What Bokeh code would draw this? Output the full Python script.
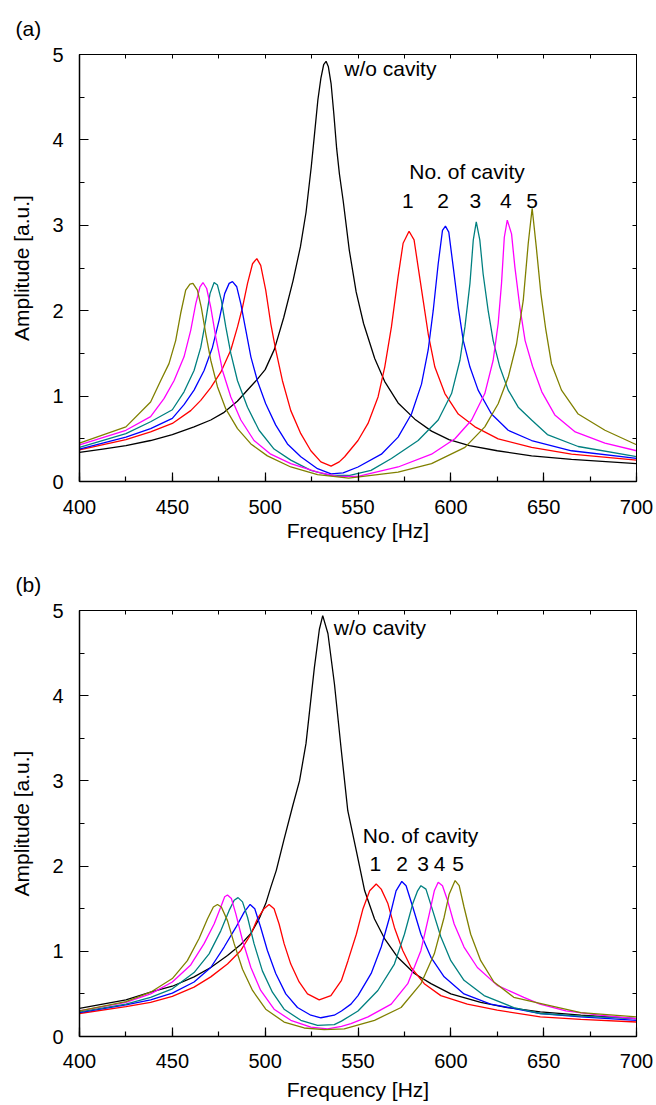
from bokeh.plotting import figure
from bokeh.layouts import column
from bokeh.models import Label, LinearAxis, Range1d, SingleIntervalTicker
from bokeh.embed import file_html
from bokeh.resources import INLINE

# ---------------- Panel (a) data ----------------
a_black_f = [400, 412.5, 425, 438.3, 450, 461.7, 470.7, 477.9, 485, 490, 495.5, 500, 505, 510, 515, 519, 522, 524.8, 526.5, 528.4, 530, 531.5, 532.8, 534, 535.5, 537, 538.5, 540, 542, 545.3, 549, 553, 559, 564.4, 571.6, 580.6, 589.6, 599, 610, 625, 643.5, 665, 700]
a_black_a = [0.34, 0.38, 0.42, 0.48, 0.55, 0.64, 0.72, 0.81, 0.94, 1.06, 1.19, 1.31, 1.55, 1.92, 2.35, 2.75, 3.15, 3.68, 4.05, 4.47, 4.72, 4.88, 4.92, 4.86, 4.66, 4.3, 3.9, 3.6, 3.29, 2.71, 2.22, 1.85, 1.44, 1.17, 0.92, 0.73, 0.59, 0.49, 0.42, 0.36, 0.30, 0.26, 0.21]

a_red_f = [400, 425, 438.3, 450, 459.9, 465.3, 470.7, 476.1, 481.5, 485.1, 487.8, 490.5, 493.2, 495.5, 497.6, 500.3, 503, 505.7, 509.3, 513.8, 519.2, 524.6, 530, 535.5, 539.9, 542.8, 550, 555.4, 560.8, 564.4, 568, 571.6, 574.3, 577.5, 580.2, 582.4, 585.1, 587.8, 591.4, 596.8, 604, 613, 625.5, 643.5, 665, 700]
a_red_a = [0.37, 0.49, 0.58, 0.68, 0.83, 0.95, 1.10, 1.28, 1.54, 1.81, 2.04, 2.32, 2.55, 2.61, 2.53, 2.24, 1.85, 1.54, 1.18, 0.83, 0.56, 0.36, 0.23, 0.18, 0.23, 0.29, 0.48, 0.68, 0.99, 1.34, 1.81, 2.40, 2.79, 2.93, 2.83, 2.51, 2.12, 1.73, 1.34, 1.03, 0.79, 0.64, 0.50, 0.40, 0.32, 0.25]

a_blue_f = [400, 425, 438.3, 450, 456.3, 461.7, 467.1, 471.6, 475.2, 478.2, 480.6, 482.4, 484.7, 486.9, 489.6, 492.3, 495.8, 500.3, 505.7, 512, 519.2, 528.2, 535.5, 542, 550, 562.6, 571.6, 578.8, 584.2, 587.8, 590.5, 593.2, 595.5, 597.1, 598.9, 601.3, 604, 606.7, 610.3, 614.7, 621.9, 630.9, 643.5, 665, 700]
a_blue_a = [0.38, 0.52, 0.62, 0.74, 0.90, 1.07, 1.30, 1.57, 1.89, 2.20, 2.32, 2.34, 2.28, 2.08, 1.77, 1.46, 1.18, 0.91, 0.66, 0.44, 0.29, 0.15, 0.09, 0.10, 0.17, 0.32, 0.52, 0.79, 1.14, 1.54, 2.0, 2.55, 2.94, 2.99, 2.92, 2.51, 2.04, 1.65, 1.34, 1.07, 0.79, 0.60, 0.48, 0.36, 0.27]

a_teal_f = [400, 425, 438.3, 450, 456.3, 461.7, 465.3, 468, 470.3, 472.5, 474.3, 476.4, 478.8, 481.5, 485.1, 490.5, 496.7, 504.8, 513.8, 524.6, 535.5, 545, 557, 568, 582.4, 593.2, 600.4, 604.9, 607.6, 610.3, 612.1, 613.7, 615.6, 617.4, 620.1, 622.8, 626.4, 630.9, 636.3, 643.5, 652, 668.6, 700]
a_teal_a = [0.40, 0.56, 0.70, 0.84, 1.05, 1.30, 1.57, 1.89, 2.20, 2.33, 2.30, 2.12, 1.81, 1.50, 1.18, 0.87, 0.60, 0.38, 0.25, 0.13, 0.07, 0.07, 0.13, 0.27, 0.48, 0.72, 1.03, 1.42, 1.81, 2.32, 2.83, 3.04, 2.83, 2.43, 2.0, 1.65, 1.34, 1.07, 0.87, 0.72, 0.55, 0.41, 0.29]

a_mag_f = [400, 425, 438.3, 445.5, 450.9, 456.3, 459.9, 462.6, 464.9, 466.5, 468.5, 470.7, 473.4, 477, 481.5, 486.9, 494, 503, 513.8, 528.2, 539, 550, 571.6, 589.6, 602.2, 611.2, 618.3, 622.8, 625.5, 627.3, 628.8, 630.4, 632.7, 634.5, 637.2, 640, 644, 649, 656, 667, 683, 700]
a_mag_a = [0.43, 0.60, 0.76, 0.97, 1.18, 1.46, 1.77, 2.08, 2.28, 2.33, 2.26, 2.04, 1.69, 1.30, 0.99, 0.72, 0.48, 0.32, 0.21, 0.11, 0.06, 0.06, 0.17, 0.32, 0.50, 0.72, 1.03, 1.42, 1.85, 2.32, 2.86, 3.06, 2.90, 2.51, 2.04, 1.65, 1.35, 1.05, 0.78, 0.58, 0.45, 0.36]

a_olv_f = [400, 425, 438.3, 443.7, 448.2, 451.8, 454.5, 457.2, 459.5, 461.1, 463.5, 465.6, 468, 470.7, 474.3, 478.8, 485.1, 492.3, 501.2, 513.8, 528.2, 545, 571.6, 589.6, 607.6, 618.3, 625.5, 630.9, 635.4, 639, 641.7, 643.8, 646, 648.5, 651, 654.2, 659.6, 668.6, 683, 700]
a_olv_a = [0.45, 0.64, 0.93, 1.18, 1.38, 1.65, 1.97, 2.24, 2.31, 2.32, 2.24, 2.04, 1.73, 1.42, 1.11, 0.85, 0.62, 0.44, 0.30, 0.17, 0.08, 0.04, 0.11, 0.21, 0.40, 0.64, 0.91, 1.22, 1.61, 2.12, 2.79, 3.20, 2.75, 2.20, 1.80, 1.38, 1.07, 0.79, 0.60, 0.43]

# ---------------- Panel (b) data ----------------
b_black_f = [400, 425, 438.3, 450, 461.7, 470.7, 479.7, 486.9, 492.3, 496.7, 500.3, 503, 506, 510, 515, 518.5, 522, 526.5, 529.2, 531, 533.8, 537.3, 541, 544.5, 549.1, 553.6, 558.9, 564.3, 571.4, 580.4, 589.3, 600, 616.1, 630.4, 648.2, 670, 700]
b_black_a = [0.33, 0.43, 0.52, 0.59, 0.70, 0.81, 0.95, 1.08, 1.21, 1.38, 1.56, 1.75, 1.95, 2.30, 2.72, 3.0, 3.44, 4.33, 4.78, 4.94, 4.73, 4.14, 3.36, 2.65, 2.18, 1.71, 1.38, 1.15, 0.93, 0.74, 0.62, 0.50, 0.40, 0.34, 0.29, 0.25, 0.21]

b_red_f = [400, 425, 438.3, 450, 461.7, 470.7, 479.7, 486.9, 492.3, 495.8, 499.4, 502.1, 504.8, 507.5, 510.2, 513.8, 518.3, 522.8, 529.1, 535.4, 541.1, 544.6, 549.1, 552.7, 556.3, 559.8, 562.5, 566.1, 569.6, 574.1, 578.6, 585.7, 594.6, 608.9, 625, 648.2, 670, 700]
b_red_a = [0.27, 0.35, 0.40, 0.47, 0.58, 0.70, 0.85, 1.01, 1.20, 1.38, 1.50, 1.55, 1.50, 1.32, 1.09, 0.85, 0.64, 0.50, 0.43, 0.48, 0.66, 0.89, 1.20, 1.50, 1.71, 1.79, 1.73, 1.56, 1.28, 1.01, 0.81, 0.62, 0.48, 0.38, 0.31, 0.23, 0.20, 0.17]

b_blue_f = [400, 425, 438.3, 450, 461.7, 470.7, 477.9, 484.2, 488.7, 491.9, 494.4, 497.6, 501.2, 505.7, 511.1, 517.4, 524.6, 530, 537.2, 541.1, 546.2, 550, 557.1, 562.5, 567, 570.5, 573.6, 575.9, 579.5, 583.9, 589.3, 596.4, 607.1, 621.4, 648.2, 670, 700]
b_blue_a = [0.28, 0.37, 0.43, 0.51, 0.64, 0.81, 1.05, 1.28, 1.46, 1.55, 1.50, 1.28, 1.01, 0.74, 0.50, 0.34, 0.25, 0.22, 0.25, 0.30, 0.38, 0.48, 0.74, 1.05, 1.40, 1.71, 1.82, 1.77, 1.52, 1.20, 0.93, 0.70, 0.50, 0.38, 0.27, 0.23, 0.19]

b_teal_f = [400, 425, 438.3, 450, 461.7, 469.8, 476.1, 480.6, 483.3, 485.4, 487.8, 490.5, 494, 498.5, 503.9, 510.2, 519.2, 528.2, 537.2, 541.1, 550, 560.7, 569.6, 575, 579.5, 582.1, 583.9, 586.6, 590.2, 594.6, 600, 607.1, 617.9, 633.9, 648.2, 670, 700]
b_teal_a = [0.29, 0.38, 0.46, 0.56, 0.75, 0.97, 1.24, 1.48, 1.60, 1.63, 1.58, 1.40, 1.09, 0.77, 0.52, 0.32, 0.19, 0.13, 0.14, 0.18, 0.30, 0.54, 0.85, 1.20, 1.56, 1.71, 1.77, 1.73, 1.48, 1.17, 0.89, 0.66, 0.48, 0.34, 0.27, 0.24, 0.21]

b_mag_f = [400, 425, 438.3, 450, 459.9, 467.1, 472.5, 476.1, 478.2, 479.7, 481.8, 484.2, 487.8, 492.3, 497.6, 504.8, 513.8, 524.6, 533.6, 541.1, 546.2, 555.4, 567.9, 576.8, 583.9, 588.4, 591.1, 593.2, 595.5, 598.2, 601.8, 607.1, 614.3, 625, 639.3, 648, 662, 680, 700]
b_mag_a = [0.30, 0.40, 0.50, 0.64, 0.84, 1.09, 1.32, 1.52, 1.64, 1.66, 1.62, 1.44, 1.13, 0.81, 0.54, 0.32, 0.19, 0.11, 0.09, 0.12, 0.15, 0.23, 0.38, 0.62, 1.01, 1.44, 1.71, 1.81, 1.77, 1.60, 1.32, 1.05, 0.81, 0.60, 0.46, 0.38, 0.30, 0.25, 0.21]

b_olv_f = [400, 425, 438.3, 450, 458.1, 464.4, 468.9, 472.1, 474.3, 476.4, 479.7, 483.3, 487.8, 493.2, 500.3, 510.2, 521, 531.8, 542.6, 558.9, 573.2, 583.9, 591.1, 596.4, 599.1, 602.3, 604.5, 607.1, 610.7, 616.1, 623.2, 633.9, 648, 670, 700]
b_olv_a = [0.30, 0.41, 0.52, 0.68, 0.89, 1.15, 1.38, 1.52, 1.55, 1.52, 1.36, 1.09, 0.79, 0.54, 0.32, 0.17, 0.10, 0.08, 0.09, 0.19, 0.34, 0.62, 0.97, 1.40, 1.67, 1.83, 1.77, 1.52, 1.20, 0.89, 0.64, 0.46, 0.39, 0.28, 0.23]

# cavity-number labels (placed at the upper peaks)
cavity_nums = ["1", "2", "3", "4", "5"]
a_num_f = [576.9, 595.8, 613.2, 629.6, 643.8]
b_num_f = [559.4, 573.8, 585.0, 594.0, 603.9]

COLORS = ["#000000", "#FF0000", "#0000FF", "#008080", "#FF00FF", "#808000"]
FONT = "Liberation Sans"
FS_TICK = "20px"
FS = "21px"


def make_panel(tag, curves, nums_f, wo_xy, noc_xy, num_y,
               height, top, bottom, tick_standoff, xlabel_standoff, title_standoff):
    p = figure(width=656, height=height,
               x_range=Range1d(400, 700), y_range=Range1d(0, 5),
               output_backend="svg", toolbar_location=None,
               min_border_left=79, min_border_right=20,
               min_border_top=top, min_border_bottom=bottom)
    p.background_fill_color = "white"
    p.border_fill_color = "white"
    p.outline_line_color = "black"
    p.outline_line_width = 1
    p.xgrid.grid_line_color = None
    p.ygrid.grid_line_color = None

    p.title.text = tag
    p.title.text_font = FONT
    p.title.text_font_size = FS
    p.title.text_font_style = "normal"
    p.title.text_color = "black"
    p.title.align = "left"
    p.title.offset = -64
    p.title.standoff = title_standoff

    xa = p.xaxis[0]
    xa.ticker = SingleIntervalTicker(interval=50, num_minor_ticks=2)
    ya = p.yaxis[0]
    ya.ticker = SingleIntervalTicker(interval=1, num_minor_ticks=2)
    for ax in (xa, ya):
        ax.major_tick_in = 9
        ax.major_tick_out = 0
        ax.minor_tick_in = 5
        ax.minor_tick_out = 0
        ax.major_tick_line_color = "black"
        ax.minor_tick_line_color = "black"
        ax.axis_line_color = "black"
        ax.axis_line_width = 1.5
        ax.major_tick_line_width = 1.2
        ax.minor_tick_line_width = 1.2
        ax.major_label_text_font = FONT
        ax.major_label_text_font_size = FS_TICK
        ax.major_label_text_color = "black"
        ax.axis_label_text_font = FONT
        ax.axis_label_text_font_size = FS
        ax.axis_label_text_font_style = "normal"
        ax.axis_label_text_color = "black"
    xa.axis_label = "Frequency [Hz]"
    xa.major_label_standoff = tick_standoff
    xa.axis_label_standoff = xlabel_standoff
    ya.axis_label = "Amplitude [a.u.]"
    ya.major_label_standoff = 16
    ya.axis_label_standoff = 16

    top_ax = LinearAxis(ticker=SingleIntervalTicker(interval=25, num_minor_ticks=0))
    right_ax = LinearAxis(ticker=SingleIntervalTicker(interval=0.5, num_minor_ticks=0))
    for ax in (top_ax, right_ax):
        ax.major_tick_in = 4
        ax.major_tick_out = 0
        ax.minor_tick_in = 0
        ax.minor_tick_out = 0
        ax.major_label_text_font_size = "1px"
        ax.major_label_text_color = None
        ax.major_label_standoff = 0
        ax.axis_line_color = "black"
        ax.axis_line_width = 1
        ax.major_tick_line_color = "black"
    p.add_layout(top_ax, "above")
    p.add_layout(right_ax, "right")

    for (fx, ay), c in zip(curves, COLORS):
        p.line(fx, ay, line_color=c, line_width=1.3)

    def lab(x, y, t, align="left"):
        p.add_layout(Label(x=x, y=y, text=t, text_font=FONT, text_font_size=FS,
                           text_color="black", text_align=align,
                           text_baseline="middle"))

    lab(wo_xy[0], wo_xy[1], "w/o cavity")
    lab(noc_xy[0], noc_xy[1], "No. of cavity")
    for f, t in zip(nums_f, cavity_nums):
        lab(f, num_y, t, align="center")
    return p


curves_a = [(a_black_f, a_black_a), (a_red_f, a_red_a), (a_blue_f, a_blue_a),
            (a_teal_f, a_teal_a), (a_mag_f, a_mag_a), (a_olv_f, a_olv_a)]
curves_b = [(b_black_f, b_black_a), (b_red_f, b_red_a), (b_blue_f, b_blue_a),
            (b_teal_f, b_teal_a), (b_mag_f, b_mag_a), (b_olv_f, b_olv_a)]

pa = make_panel("(a)", curves_a, a_num_f, (542.6, 4.84), (577.6, 3.63), 3.29,
                height=555, top=54, bottom=74, tick_standoff=18, xlabel_standoff=2,
                title_standoff=29)
pb = make_panel("(b)", curves_b, b_num_f, (537.0, 4.80), (552.6, 2.36), 2.02,
                height=550, top=55, bottom=69, tick_standoff=17, xlabel_standoff=7,
                title_standoff=30)

layout = column(pa, pb, spacing=0)
open("out.html", "w").write(file_html(layout, INLINE))
